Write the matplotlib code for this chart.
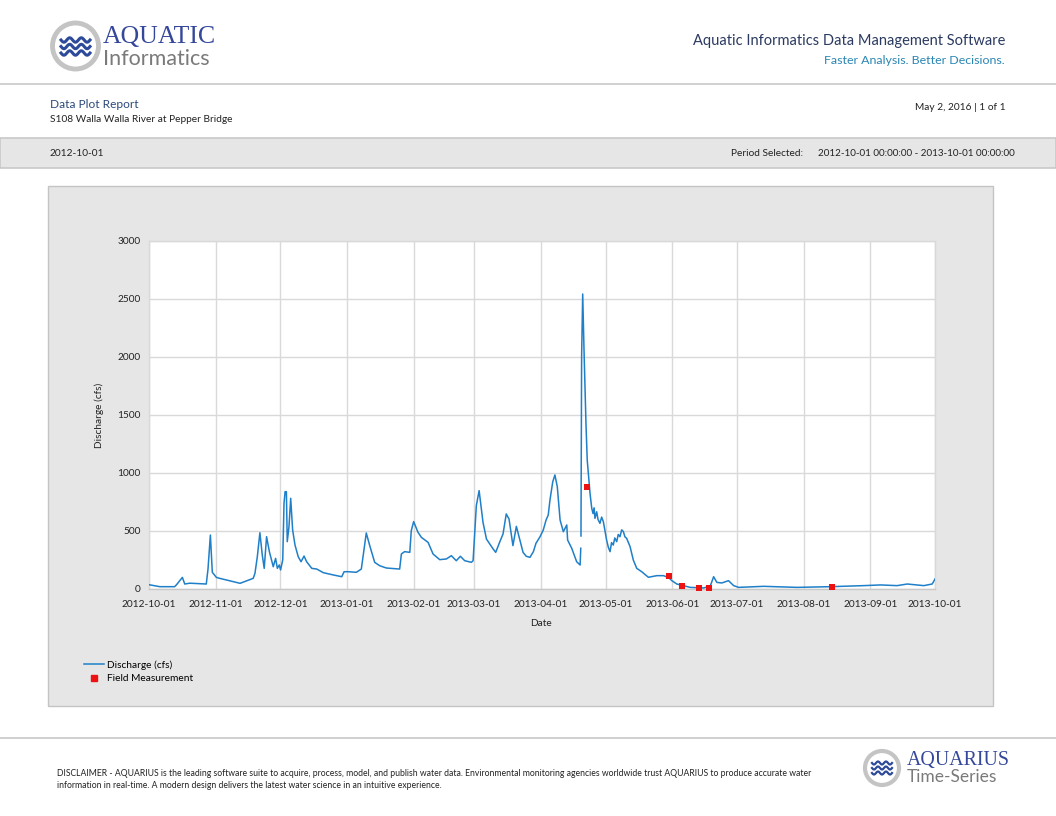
import matplotlib
matplotlib.use("Agg")
import matplotlib.pyplot as plt
import matplotlib.dates as mdates
import numpy as np
import pandas as pd
from matplotlib.patches import Rectangle, Ellipse
from matplotlib.lines import Line2D

plt.rcParams['font.family'] = ['Lato', 'DejaVu Sans']

# ---------------- data ----------------
start_date = "2012-10-01"
# days since 2012-10-01 and discharge (cfs) (nan = data gap)
discharge_days = [0, 5, 11.9, 12.7, 15.5, 16.6, 18.9, 26.6, 27.4, 28.5, 29.4, 31.3, 32.8,
                  35.9, 42.3, 48.4, 49.2, 50.3, 51.5, 52.6, 53.5, 54.6, 55.9, 57.7, 58.8,
                  59.6, 60.5, 61.1, 62.1, 62.7, 63.2, 63.8, 64.2, 65.0, 65.8, 66.7, 67.8,
                  69.3, 70.6, 72.0, 73.2, 75.6, 77.9, 80.9, 85.6, 89.5, 90.6, 92.6,
                  96.3, 98.6, 100.9, 102.5, 104.8,
                  107.1, 110.2, 116.4, 117.2, 118.7, 121.1, 121.8, 122.9, 124.9, 126.5, 129.6,
                  131.9, 135.0, 138.1, 140.4, 142.7, 144.6, 146.6, 149.7, 150.5, 152.0, 153.3,
                  155.1, 156.7, 159.8, 161.0, 162.8, 164.4, 165.9, 167.2, 169.0, 170.6, 172.1,
                  173.7, 175.2, 176.9, 178.5, 179.7, 181.6, 183.1, 184.4, 185.4, 186.2, 187.5,
                  188.5, 189.6, 190.9, 192.4, 194.0, 194.4, 196.3, 198.6, 200.2, 200.5, 200.55,
                  200.6, 200.9, 201.4, 202.0, 202.9, 203.5, 204.8, 205.6, 206.2, 206.7, 207.1,
                  207.9, 208.5, 209.4, 210.2, 211.0, 212.5, 213.3, 214.1, 214.8, 215.6, 216.3,
                  217.2, 217.9, 218.7, 219.5, 220.3, 221.0, 221.8, 223.4, 224.9, 226.5, 228.8,
                  231.9, 235.8, 238.9, 241.2, 242.8, 245.1, 248.2, 251.3, 257.5, 260.6, 262.2,
                  263.7, 266.0, 269.1, 271.5, 273.8, 285.4, 300.9, 316.4, 331.9, 339.7, 347.4,
                  352.1, 359.8, 363.7, 365.0]
discharge_cfs = [37, 20, 20, 35, 100, 43, 50, 43, 172, 465, 144, 100, 92,
                 78, 49, 92, 135, 278, 485, 293, 178, 451, 322, 192, 264,
                 178, 207, 164, 250, 739, 839, 839, 408, 537, 782, 509, 379,
                 278, 235, 284, 235, 178, 172, 141, 121, 106, 149, 149,
                 144, 172, 483, 374, 230,
                 201, 181, 172, 302, 322, 316, 503, 581, 489, 445, 402,
                 302, 253, 259, 287, 244, 282, 244, 230, 244, 718, 848,
                 575, 431, 345, 316, 402, 474, 647, 603, 374, 540, 431,
                 316, 282, 273, 322, 394, 451, 509, 595, 638, 767, 925,
                 983, 882, 595, 494, 552, 422, 351, 235, 207, 351, np.nan,
                 457, 2012, 2543, 2069, 1437, 1112, 825, 696, 650, 700, 609,
                 666, 600, 566, 620, 580, 422, 360, 322, 400, 379, 440,
                 408, 470, 451, 510, 494, 450, 437, 365, 250, 178, 149,
                 101, 115, 115, 100, 72, 43, 29, 14, 9, 23, 106,
                 57, 52, 72, 29, 14, 23, 14, 20, 29, 35, 29,
                 43, 29, 43, 86]

field_dates = ["2013-04-22 12:00", "2013-05-30 10:00", "2013-06-05 12:00",
               "2013-06-13 08:00", "2013-06-18 00:00", "2013-08-14 05:00"]
field_cfs = [882, 109, 23, 9, 6, 14]

y_ticks = [0, 500, 1000, 1500, 2000, 2500, 3000]
month_ticks = ["2012-10-01", "2012-11-01", "2012-12-01", "2013-01-01", "2013-02-01",
               "2013-03-01", "2013-04-01", "2013-05-01", "2013-06-01", "2013-07-01",
               "2013-08-01", "2013-09-01", "2013-10-01"]

# ---------------- figure ----------------
W, H = 1056, 816
fig = plt.figure(figsize=(W / 100, H / 100), dpi=100)
fig.patch.set_facecolor("white")


def fx(px):
    return px / W


def fy(py):
    return 1 - py / H


TXT = "#222222"


def logo(cx, cy, r, lw_ring, wave_x0, wave_w, wave_ys, amp, lw_wave):
    fig.patches.append(Ellipse((fx(cx), fy(cy)), 2 * r / W, 2 * r / H,
                               transform=fig.transFigure, facecolor="white",
                               edgecolor="#c4c4c4", linewidth=lw_ring, zorder=2))
    tt = np.linspace(0, 1, 60)
    for yy in wave_ys:
        xs = wave_x0 + wave_w * tt
        ys = yy + amp * np.sin(tt * 2 * np.pi * 2.5)
        fig.add_artist(Line2D(fx(xs), fy(ys), transform=fig.transFigure,
                              color="#2d4a9a", linewidth=lw_wave, zorder=3))


# header logo
logo(75.5, 46, 23, 3.5, 61, 29, [40, 46.5, 53], 2.2, 2.2)
fig.text(fx(103), fy(37), "AQUATIC", family=["Liberation Serif"], fontsize=18.5,
         color="#34479a", va="center", ha="left")
fig.text(fx(103), fy(59), "Informatics", fontsize=15.5, color="#7a7a7a",
         va="center", ha="left")

fig.text(fx(1005), fy(41), "Aquatic Informatics Data Management Software",
         fontsize=10.5, color="#2b3a60", ha="right", va="center")
fig.text(fx(1005), fy(60), "Faster Analysis. Better Decisions.",
         fontsize=8.9, color="#2a86b4", ha="right", va="center")

fig.add_artist(Line2D([0, 1], [fy(84), fy(84)], transform=fig.transFigure,
                      color="#c8c8c8", linewidth=1.2))

fig.text(fx(50), fy(104), "Data Plot Report", fontsize=8.6, color="#2b4a7a",
         ha="left", va="center")
fig.text(fx(50), fy(120), "S108 Walla Walla River at Pepper Bridge", fontsize=7.3,
         color=TXT, ha="left", va="center")
fig.text(fx(1006), fy(108), "May 2, 2016 | 1 of 1", fontsize=7.3, color=TXT,
         ha="right", va="center")

# gray band
fig.patches.append(Rectangle((0, fy(168)), 1, (168 - 138) / H, transform=fig.transFigure,
                             facecolor="#e6e6e6", edgecolor="#c8c8c8", linewidth=1.2,
                             zorder=-5))
fig.text(fx(50), fy(153), "2012-10-01", fontsize=7.3, color=TXT,
         ha="left", va="center")
fig.text(fx(803), fy(153), "Period Selected:", fontsize=7.3, color=TXT,
         ha="right", va="center")
fig.text(fx(1015), fy(153), "2012-10-01 00:00:00 - 2013-10-01 00:00:00", fontsize=7.1,
         color=TXT, ha="right", va="center")

# chart panel
fig.patches.append(Rectangle((fx(48), fy(706)), (993 - 48) / W, (706 - 186) / H,
                             transform=fig.transFigure, facecolor="#e6e6e6",
                             edgecolor="#c4c4c4", linewidth=1.0, zorder=-5))

ax = fig.add_axes([fx(149), fy(589), (935 - 149) / W, (589 - 241) / H])
ax.set_zorder(2)
ax.set_facecolor("white")

t0 = pd.Timestamp(start_date)
d_dates = t0 + pd.to_timedelta(np.array(discharge_days), unit="D")
f_dates = pd.to_datetime(field_dates)

ax.plot(d_dates, discharge_cfs, color="#1f7fc8", linewidth=1.1, zorder=3,
        label="Discharge (cfs)")
ax.scatter(f_dates, field_cfs, marker="s", s=22, color="#ee1111", zorder=4,
           label="Field Measurement", linewidths=0, clip_on=False)

ax.set_xlim(pd.Timestamp(month_ticks[0]), pd.Timestamp(month_ticks[-1]))
ax.set_ylim(0, 3000)
ax.set_yticks(y_ticks)
ax.set_xticks(pd.to_datetime(month_ticks))
ax.xaxis.set_major_formatter(mdates.DateFormatter("%Y-%m-%d"))
ax.tick_params(axis="both", length=0, labelsize=7.3, colors=TXT, pad=6)
ax.tick_params(axis="x", pad=8)
ax.grid(True, color="#d9d9d9", linewidth=1.0)
ax.set_axisbelow(True)
for s in ax.spines.values():
    s.set_color("#d9d9d9")
    s.set_linewidth(1.0)
ax.spines["bottom"].set_color("#c8c8c8")

fig.text(fx(99), fy(415), "Discharge (cfs)", rotation=90, fontsize=7.3,
         color=TXT, ha="center", va="center")
fig.text(fx(541), fy(624), "Date", fontsize=7.3, color=TXT,
         ha="center", va="center")

# legend
leg = fig.legend(handles=[Line2D([], [], color="#1f7fc8", linewidth=1.1),
                          Line2D([], [], marker="s", color="#ee1111", linestyle="none",
                                 markersize=4.5)],
                 labels=["Discharge (cfs)", "Field Measurement"],
                 loc="upper left", bbox_to_anchor=(fx(80), fy(656)),
                 frameon=False, fontsize=7.3, handlelength=2.0, handletextpad=0.3,
                 labelspacing=0.45, borderaxespad=0)

# footer
fig.add_artist(Line2D([0, 1], [fy(738), fy(738)], transform=fig.transFigure,
                      color="#c8c8c8", linewidth=1.2))
fig.text(fx(57), fy(774),
         "DISCLAIMER - AQUARIUS is the leading software suite to acquire, process, model, and publish water data. "
         "Environmental monitoring agencies worldwide trust AQUARIUS to produce accurate water",
         fontsize=6.2, color=TXT, ha="left", va="center")
fig.text(fx(57), fy(786),
         "information in real-time. A modern design delivers the latest water science in an intuitive experience.",
         fontsize=6.2, color=TXT, ha="left", va="center")

logo(882, 768, 17, 3, 872, 20, [763, 768, 773], 1.5, 1.6)
fig.text(fx(907), fy(761), "AQUARIUS", family=["Liberation Serif"], fontsize=14.3,
         color="#34479a", ha="left", va="center")
fig.text(fx(907), fy(777), "Time-Series", fontsize=12.5, color="#7a7a7a",
         ha="left", va="center")

fig.savefig("out.png", dpi=100)
